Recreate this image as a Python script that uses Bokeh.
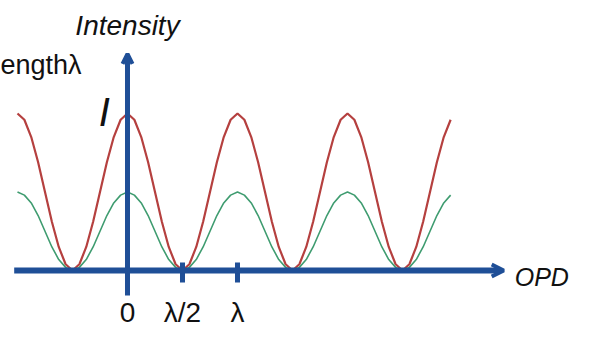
from bokeh.plotting import figure
from bokeh.models import Range1d, Arrow, OpenHead, Label, LabelSet, ColumnDataSource
from bokeh.embed import file_html
from bokeh.resources import INLINE
from bokeh.core.properties import value

# OPD in units of wavelength
opd = [-1.0, -0.9375, -0.875, -0.8125, -0.75, -0.6875, -0.625, -0.5625,
       -0.5, -0.4375, -0.375, -0.3125, -0.25, -0.1875, -0.125, -0.0625,
       0.0, 0.0625, 0.125, 0.1875, 0.25, 0.3125, 0.375, 0.4375,
       0.5, 0.5625, 0.625, 0.6875, 0.75, 0.8125, 0.875, 0.9375,
       1.0, 1.0625, 1.125, 1.1875, 1.25, 1.3125, 1.375, 1.4375,
       1.5, 1.5625, 1.625, 1.6875, 1.75, 1.8125, 1.875, 1.9375,
       2.0, 2.0625, 2.125, 2.1875, 2.25, 2.3125, 2.375, 2.4375,
       2.5, 2.5625, 2.625, 2.6875, 2.75, 2.8125, 2.875, 2.9375]

red_intensity = [1.00, 0.96, 0.85, 0.69, 0.50, 0.31, 0.15, 0.04, 0.00, 0.04, 0.15, 0.31, 0.50, 0.69, 0.85, 0.96,
                 1.00, 0.96, 0.85, 0.69, 0.50, 0.31, 0.15, 0.04, 0.00, 0.04, 0.15, 0.31, 0.50, 0.69, 0.85, 0.96,
                 1.00, 0.96, 0.85, 0.69, 0.50, 0.31, 0.15, 0.04, 0.00, 0.04, 0.15, 0.31, 0.50, 0.69, 0.85, 0.96,
                 1.00, 0.96, 0.85, 0.69, 0.50, 0.31, 0.15, 0.04, 0.00, 0.04, 0.15, 0.31, 0.50, 0.69, 0.85, 0.96]

green_intensity = [0.50, 0.48, 0.43, 0.35, 0.25, 0.15, 0.07, 0.02, 0.00, 0.02, 0.07, 0.15, 0.25, 0.35, 0.43, 0.48,
                   0.50, 0.48, 0.43, 0.35, 0.25, 0.15, 0.07, 0.02, 0.00, 0.02, 0.07, 0.15, 0.25, 0.35, 0.43, 0.48,
                   0.50, 0.48, 0.43, 0.35, 0.25, 0.15, 0.07, 0.02, 0.00, 0.02, 0.07, 0.15, 0.25, 0.35, 0.43, 0.48,
                   0.50, 0.48, 0.43, 0.35, 0.25, 0.15, 0.07, 0.02, 0.00, 0.02, 0.07, 0.15, 0.25, 0.35, 0.43, 0.48]

tick_positions = [0.5, 1.0]
tick_label_positions = [0.0, 0.5, 1.0]
tick_labels = ["0", "λ/2", "λ"]

AXIS_BLUE = "#1f4f97"
RED = "#b5403f"
GREEN = "#3f9c70"
TEXT = "#111111"

p = figure(width=574, height=328, output_backend="svg", toolbar_location=None,
           x_range=Range1d(-1.1545, 4.0636), y_range=Range1d(-0.3694, 1.7197),
           min_border=0, outline_line_color=None, background_fill_color="white",
           border_fill_color="white")
p.xaxis.visible = False
p.yaxis.visible = False
p.grid.visible = False

# curves
p.line(opd, red_intensity, line_color=RED, line_width=2.2)
p.line(opd, green_intensity, line_color=GREEN, line_width=1.6)

# horizontal OPD axis with arrow
p.add_layout(Arrow(x_start=-1.03, y_start=0, x_end=3.42, y_end=0,
                   line_color=AXIS_BLUE, line_width=6,
                   end=OpenHead(size=12, line_color=AXIS_BLUE, line_width=4)))
# vertical intensity axis with arrow
p.add_layout(Arrow(x_start=0, y_start=-0.159, x_end=0, y_end=1.38,
                   line_color=AXIS_BLUE, line_width=5,
                   end=OpenHead(size=10, line_color=AXIS_BLUE, line_width=4)))

# tick marks
tsrc = ColumnDataSource(dict(x=tick_positions, y0=[0.051] * len(tick_positions),
                             y1=[-0.076] * len(tick_positions)))
p.segment(x0="x", y0="y0", x1="x", y1="y1", source=tsrc,
          line_color=AXIS_BLUE, line_width=5)

# tick labels
lsrc = ColumnDataSource(dict(x=tick_label_positions, y=[-0.265] * 3, t=tick_labels))
p.add_layout(LabelSet(x="x", y="y", text="t", source=lsrc, text_align="center",
                      text_baseline="middle", text_font=value("Liberation Sans"),
                      text_font_size=value("28px"), text_color=TEXT))

# labels
p.add_layout(Label(x=0.0, y=1.56, text="Intensity", text_align="center",
                   text_baseline="middle", text_font="Liberation Sans",
                   text_font_style="italic", text_font_size="28px",
                   text_color=TEXT))
p.add_layout(Label(x=-0.21, y=1.01, text="I", text_align="center",
                   text_baseline="middle", text_font="Liberation Sans",
                   text_font_style="italic", text_font_size="40px",
                   text_color=TEXT))
p.add_layout(Label(x=3.52, y=-0.04, text="OPD", text_align="left",
                   text_baseline="middle", text_font="Liberation Sans",
                   text_font_style="italic", text_font_size="25px",
                   text_color=TEXT))
p.add_layout(Label(x=-1.1545, y=1.31, text="engthλ", text_align="left",
                   text_baseline="middle", text_font="Liberation Sans",
                   text_font_size="27px", text_color=TEXT))

open("out.html", "w").write(file_html(p, INLINE))
